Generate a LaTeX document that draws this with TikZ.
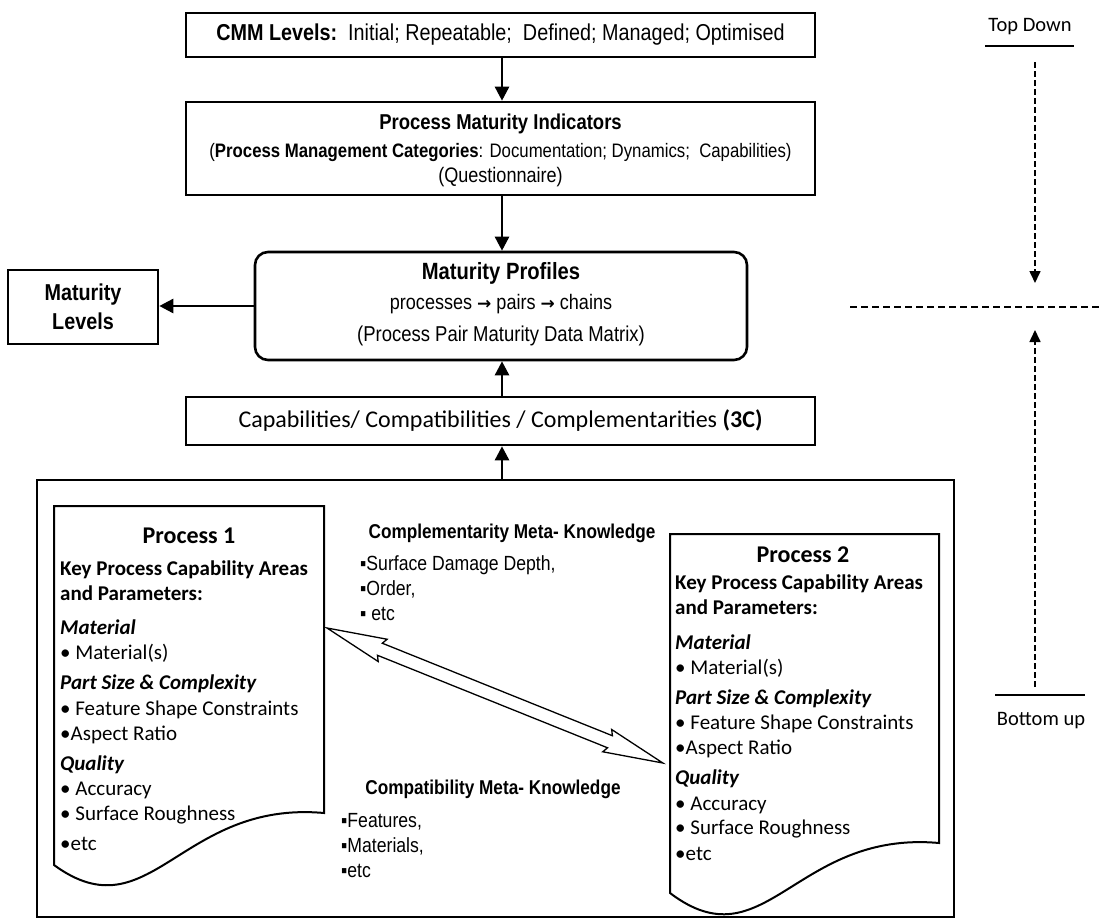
\documentclass[tikz,border=0pt]{standalone}
\usepackage{fontspec}
\setmainfont{Carlito}
\newfontfamily\arn[FakeStretch=0.86]{Liberation Sans}
\newfontfamily\djv{DejaVu Sans}
\usetikzlibrary{arrows.meta}
\newcommand{\rarr}{{\djv\bfseries\fontsize{17}{20}\selectfont →}}
\begin{document}
\begin{tikzpicture}[x=1pt,y=-1pt,
  box/.style={draw, line width=2.6pt, inner sep=0pt, align=center},
  arr/.style={-{Triangle[length=14pt,width=14pt]}, line width=2.6pt},
  dasharr/.style={dash pattern=on 6pt off 3pt, line width=1.6pt, -{Triangle[length=12pt,width=11pt]}},
  solid line/.style={line width=2.4pt},
  doc/.style={line width=2pt, line join=miter},
  ptxt/.style={anchor=base west, inner sep=0pt, font=\fontsize{21}{24}\selectfont},
  mtxt/.style={anchor=base west, inner sep=0pt, font=\arn\fontsize{20.5}{24}\selectfont},
  mhead/.style={inner sep=0pt, font=\arn\bfseries\fontsize{20}{24}\selectfont},
  side/.style={inner sep=0pt, font=\fontsize{20.5}{24}\selectfont}
]
\useasboundingbox (0,0) rectangle (1103,918);

% ---------- top chain ----------
\node[box, minimum width=629pt, minimum height=44pt] (cmm) at (500.5,35)
  {\arn\fontsize{23}{26}\selectfont\textbf{CMM Levels:}\ \ Initial; Repeatable;\ \ Defined; Managed; Optimised};

\node[box, minimum width=629pt, minimum height=93pt] (pmi) at (500.5,148.5) {};
\node[inner sep=0pt, font=\arn\bfseries\fontsize{21.5}{24}\selectfont] (pmi1) at (500.5,124) {Process Maturity Indicators};
\node[inner sep=0pt, font=\arn\fontsize{19.5}{22}\selectfont] (pmi2) at (500.5,152) {(\textbf{Process Management Categories}: Documentation;\ Dynamics;\ \ Capabilities)};
\node[inner sep=0pt, font=\arn\fontsize{21}{24}\selectfont] (pmi3) at (500.5,177) {(Questionnaire)};

\node[box, rounded corners=13pt, minimum width=492pt, minimum height=108pt] (mp) at (501,306) {};
\node[inner sep=0pt, font=\arn\bfseries\fontsize{23.5}{26}\selectfont] (mp1) at (501,273) {Maturity Profiles};
\node[inner sep=0pt, font=\arn\fontsize{21}{24}\selectfont] (mp2) at (501,304) {processes \rarr\ pairs \rarr\ chains};
\node[inner sep=0pt, font=\arn\fontsize{21.5}{24}\selectfont] (mp3) at (501,336) {(Process Pair Maturity Data Matrix)};

\node[box, minimum width=150pt, minimum height=74pt, font=\arn\bfseries\fontsize{23}{29}\selectfont] (ml) at (83,307) {Maturity\\Levels};

\node[box, minimum width=629pt, minimum height=48pt, font=\fontsize{24}{26}\selectfont] (c3) at (500.5,421)
  {Capabilities/ Compatibilities / Complementarities \textbf{(3C)}};

\node[draw, line width=2.6pt, inner sep=0pt, minimum width=917pt, minimum height=437pt] (big) at (495.5,698.5) {};

\draw[arr] (cmm.south -| 502,0) -- (pmi.north -| 502,0);
\draw[arr] (pmi.south -| 502,0) -- (mp.north -| 502,0);
\draw[arr] (c3.north -| 502,0) -- (mp.south -| 502,0);
\draw[arr] (big.north -| 502,0) -- (c3.south -| 502,0);
\draw[arr] (mp.west) -- (mp.west -| ml.east);

% ---------- right side ----------
\node[side] (td) at (1030,27) {Top Down};
\coordinate (tdl) at (985,46); \coordinate (tdr) at (1074,46);
\draw[solid line] (tdl) -- (tdr);
\coordinate (tds) at (1035,62); \coordinate (tde) at (1035,283);
\draw[dasharr] (tds) -- (tde);
\coordinate (hl) at (850,307); \coordinate (hr) at (1103,307);
\draw[dash pattern=on 7pt off 4pt, line width=1.6pt] (hl) -- (hr);
\coordinate (bus) at (1035,687); \coordinate (bue) at (1035,330);
\draw[dasharr] (bus) -- (bue);
\coordinate (bul) at (995,695); \coordinate (bur) at (1085,695);
\draw[solid line] (bul) -- (bur);
\node[side] (bu) at (1041,721) {Bottom up};

% ---------- process documents ----------
\draw[doc] (54,506) -- (324,506) -- (324,813) .. controls (180,800) and (150,935) .. (54,865) -- cycle;
\draw[doc] (670,534) -- (939,534) -- (939,843) .. controls (795,830) and (765,965) .. (670,893) -- cycle;

\node[inner sep=0pt, font=\bfseries\fontsize{24}{26}\selectfont] (p1t) at (189,536) {Process 1};
\foreach \y/\t [count=\i] in {
  568/{\textbf{Key Process Capability\ Areas}},
  593/{\textbf{and Parameters:}},
  627/{\textbf{\textit{Material}}},
  652/{•\ Material(s)},
  682/{\textbf{\textit{Part Size \& Complexity}}},
  708/{•\ Feature Shape Constraints},
  733/{•Aspect Ratio},
  763/{\textbf{\textit{Quality}}},
  788/{•\ Accuracy},
  813/{•\ Surface Roughness},
  843/{•etc}}
  \node[ptxt] (p1l\i) at (60,\y+7) {\t};

\node[inner sep=0pt, font=\bfseries\fontsize{24}{26}\selectfont] (p2t) at (803,555) {Process 2};
\foreach \y/\t [count=\i] in {
  582/{\textbf{Key Process Capability\ Areas}},
  607/{\textbf{and Parameters:}},
  642/{\textbf{\textit{Material}}},
  667/{•\ Material(s)},
  697/{\textbf{\textit{Part Size \& Complexity}}},
  722/{•\ Feature Shape Constraints},
  747/{•Aspect Ratio},
  777/{\textbf{\textit{Quality}}},
  803/{•\ Accuracy},
  827/{•\ Surface Roughness},
  853/{•etc}}
  \node[ptxt] (p2l\i) at (675,\y+7) {\t};

% ---------- meta knowledge ----------
\node[mhead] (cmk) at (512,533) {Complementarity Meta- Knowledge};
\node[mtxt] (cmk1) at (360,570) {▪Surface\ Damage\ Depth,};
\node[mtxt] (cmk2) at (360,595) {▪Order,};
\node[mtxt] (cmk3) at (360,620) {▪\ etc};

\node[mhead] (cpk) at (493,789) {Compatibility Meta- Knowledge};
\node[mtxt] (cpk1) at (341,827) {▪Features,};
\node[mtxt] (cpk2) at (341,852) {▪Materials,};
\node[mtxt] (cpk3) at (341,877) {▪etc};

% ---------- double arrow ----------
\coordinate (dal) at (327,628);
\coordinate (dar) at (663,763);
\begin{scope}[shift={(dal)}, rotate=-21.9]
  \draw[line width=1.3pt, fill=white, line join=miter]
    (0,0) -- (60,-12) -- (57,-6.5) -- (305,-6.5) -- (302,-12) -- (362,0)
    -- (302,12) -- (305,6.5) -- (57,6.5) -- (60,12) -- cycle;
\end{scope}
\end{tikzpicture}
\end{document}
